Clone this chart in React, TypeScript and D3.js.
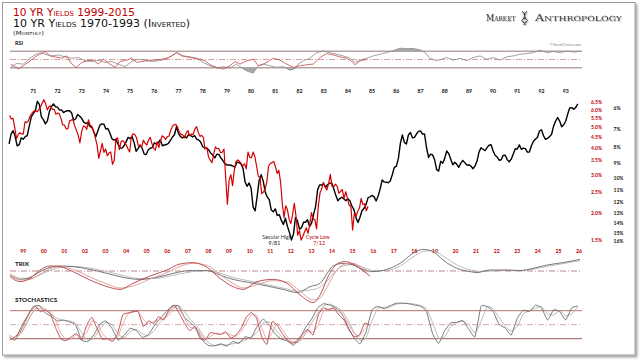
import React from 'react';
import * as d3 from 'd3';

// ---------- DATA ----------
// Black: 10 YR yields, monthly, Jan 1970 .. Jul 1993 (plotted inverted)
const blackStart = 1970;
const blackYields = [
  7.79, 7.24, 7.07, 7.39, 7.91, 7.84, 7.46, 7.53, 7.39, 7.33, 6.84, 6.39,
  6.24, 6.11, 5.70, 5.83, 6.39, 6.52, 6.73, 6.58, 6.14, 5.93, 5.81, 5.93,
  5.95, 6.08, 6.07, 6.19, 6.13, 6.11, 6.11, 6.21, 6.55, 6.48, 6.28, 6.36,
  6.46, 6.64, 6.71, 6.67, 6.85, 6.90, 7.13, 7.40, 7.09, 6.79, 6.73, 6.74,
  6.99, 6.96, 7.21, 7.51, 7.58, 7.54, 7.81, 8.04, 8.04, 7.90, 7.68, 7.43,
  7.50, 7.39, 7.73, 8.23, 8.06, 7.86, 8.06, 8.40, 8.43, 8.14, 8.05, 8.00,
  7.74, 7.79, 7.73, 7.56, 7.90, 7.86, 7.83, 7.77, 7.59, 7.41, 7.29, 6.87,
  7.21, 7.39, 7.46, 7.37, 7.46, 7.28, 7.33, 7.40, 7.34, 7.52, 7.58, 7.69,
  7.96, 8.03, 8.04, 8.15, 8.35, 8.46, 8.64, 8.41, 8.42, 8.64, 8.81, 9.01,
  9.10, 9.10, 9.12, 9.18, 9.25, 8.91, 8.95, 9.03, 9.33, 10.30, 10.65, 10.39,
  10.80, 12.41, 12.75, 11.47, 10.18, 9.78, 10.25, 11.10, 11.51, 11.75, 12.68, 12.84,
  12.57, 13.19, 13.12, 13.68, 14.10, 13.47, 14.28, 14.94, 15.80, 15.15, 13.39, 13.72,
  14.59, 14.43, 13.86, 13.87, 13.62, 14.30, 13.95, 13.06, 12.34, 10.91, 10.55, 10.54,
  10.46, 10.72, 10.51, 10.40, 10.38, 10.85, 11.38, 11.85, 11.65, 11.54, 11.69, 11.83,
  11.67, 11.84, 12.32, 12.63, 13.41, 13.90, 13.36, 12.72, 12.52, 12.16, 11.57, 11.50,
  11.38, 11.51, 11.86, 11.43, 10.85, 10.16, 10.31, 10.33, 10.37, 10.24, 9.78, 9.26,
  9.19, 8.70, 7.78, 7.30, 7.71, 7.80, 7.30, 7.17, 7.45, 7.43, 7.25, 7.11,
  7.08, 7.25, 7.25, 8.02, 8.61, 8.40, 8.45, 8.76, 9.42, 9.52, 8.86, 8.99,
  8.67, 8.21, 8.37, 8.72, 9.09, 8.92, 9.06, 9.26, 8.98, 8.80, 8.96, 9.11,
  9.09, 9.17, 9.36, 9.18, 8.86, 8.28, 8.02, 8.11, 8.19, 8.01, 7.87, 7.84,
  8.21, 8.47, 8.59, 8.79, 8.76, 8.48, 8.47, 8.75, 8.89, 8.72, 8.39, 8.08,
  8.09, 7.85, 8.11, 8.04, 8.07, 8.28, 8.27, 7.90, 7.65, 7.53, 7.42, 7.09,
  7.03, 7.34, 7.54, 7.48, 7.39, 7.26, 6.84, 6.59, 6.42, 6.59, 6.87, 6.77,
  6.60, 6.26, 5.98, 5.97, 6.04, 5.96, 5.81,
];

// Red: 10 YR yields, monthly, May 1998 .. Oct 2015
const redStart = 1998 + 4 / 12;
const redYields = [
  5.65, 5.45, 5.49, 4.98, 4.42, 4.61, 4.71, 4.65,
  4.65, 5.29, 5.24, 5.35, 5.62, 5.78, 5.90, 5.97, 5.88, 6.02, 6.19, 6.44,
  6.68, 6.41, 6.00, 6.21, 6.27, 6.03, 6.03, 5.73, 5.80, 5.75, 5.47, 5.11,
  5.11, 4.90, 4.92, 5.34, 5.38, 5.41, 5.05, 4.83, 4.59, 4.23, 4.75, 5.05,
  5.03, 4.88, 5.40, 5.09, 5.04, 4.80, 4.46, 4.14, 3.59, 3.89, 4.21, 3.82,
  3.96, 3.69, 3.80, 3.84, 3.37, 3.51, 4.41, 4.46, 3.94, 4.29, 4.33, 4.25,
  4.13, 3.97, 3.84, 4.51, 4.65, 4.62, 4.46, 4.12, 4.12, 4.03, 4.35, 4.22,
  4.13, 4.36, 4.48, 4.20, 3.98, 3.92, 4.28, 4.02, 4.33, 4.56, 4.49, 4.39,
  4.52, 4.55, 4.85, 5.05, 5.12, 5.14, 4.98, 4.73, 4.63, 4.60, 4.46, 4.70,
  4.82, 4.56, 4.64, 4.62, 4.89, 5.02, 4.74, 4.53, 4.58, 4.47, 3.96, 4.02,
  3.65, 3.52, 3.43, 3.74, 4.05, 3.98, 3.98, 3.81, 3.83, 3.96, 2.93, 2.21,
  2.85, 3.02, 2.69, 3.16, 3.47, 3.53, 3.48, 3.40, 3.31, 3.39, 3.21, 3.84,
  3.63, 3.61, 3.84, 3.66, 3.31, 2.97, 2.94, 2.47, 2.51, 2.60, 2.80, 3.30,
  3.40, 3.43, 3.47, 3.29, 3.06, 3.16, 2.80, 2.23, 1.92, 2.17, 2.08, 1.88,
  1.80, 1.98, 2.23, 1.95, 1.59, 1.67, 1.51, 1.57, 1.65, 1.72, 1.62, 1.78,
  2.02, 1.89, 1.87, 1.70, 2.16, 2.49, 2.60, 2.78, 2.64, 2.57, 2.75, 3.03,
  2.67, 2.66, 2.73, 2.67, 2.48, 2.53, 2.58, 2.35, 2.52, 2.35, 2.18, 2.17,
  1.68, 2.00, 1.94, 2.05, 2.12, 2.35, 2.20, 2.22, 2.06, 2.16,
];

// axis labels
const blackYearTicks = d3.range(1971, 1994);
const blackYearLabels = blackYearTicks.map((y) => String(y).slice(2));
const redYearTicks = d3.range(1999, 2027);
const redYearLabels = redYearTicks.map((y) => String(y).slice(2));
const redYieldTicks = [6.5, 6.0, 5.5, 5.0, 4.5, 4.0, 3.5, 3.0, 2.5, 2.0, 1.5];
const blackYieldTicks = [6, 7, 8, 9, 10, 11, 12, 13, 14, 15, 16];

// RSI [year, value]
const rsiBlack: [number, number][] = [
  [1970.07, 30.8], [1970.31, 40.4], [1970.59, 38.8], [1970.86, 53.2], [1971.07, 61.2], [1971.28, 66.8],
  [1971.48, 62.8], [1971.76, 58.8], [1972.03, 61.2], [1972.31, 56.4], [1972.59, 53.2], [1972.86, 54.8],
  [1973.14, 46.8], [1973.41, 45.2], [1973.69, 48.4], [1973.96, 42.8], [1974.24, 45.2], [1974.51, 38.8],
  [1974.79, 32.4], [1975.07, 45.2], [1975.34, 50.8], [1975.62, 48.4], [1975.89, 45.2], [1976.17, 46.8],
  [1976.44, 50], [1976.72, 58.8], [1976.93, 66.8], [1977.2, 58.8], [1977.48, 56.4], [1977.75, 53.2],
  [1978.02, 42.8], [1978.3, 34.8], [1978.58, 29.2], [1978.85, 32.4], [1979.13, 29.2], [1979.4, 38.8],
  [1979.68, 26.8], [1979.88, 20.5], [1980.09, 17], [1980.3, 34.8], [1980.5, 38.8], [1980.78, 34.8],
  [1981.06, 30.8], [1981.33, 32.4], [1981.61, 24], [1981.81, 27.5], [1981.95, 38.8], [1982.15, 46.8],
  [1982.43, 53.2], [1982.71, 66.8], [1982.98, 70.8], [1983.26, 66.8], [1983.54, 62.8], [1983.81, 58.8],
  [1984.09, 53.2], [1984.29, 42.8], [1984.5, 48.4], [1984.78, 53.2], [1985.05, 58.8], [1985.33, 62.8],
  [1985.6, 66.8], [1985.88, 71.5], [1986.15, 77.5], [1986.43, 76.5], [1986.7, 76.8], [1986.98, 73.5],
  [1987.19, 66.8], [1987.39, 53.2], [1987.67, 46.8], [1987.88, 50.8], [1988.08, 54.8], [1988.36, 48.4],
  [1988.63, 53.2], [1988.91, 46.8], [1989.18, 54.8], [1989.46, 58.8], [1989.74, 50.8], [1990.01, 54.8],
  [1990.29, 48.4], [1990.56, 56.4], [1990.84, 58.8], [1991.11, 62.8], [1991.39, 64.4], [1991.66, 66.8],
  [1991.94, 72.8], [1992.22, 66.8], [1992.49, 69.8], [1992.77, 66.8], [1993.04, 70.4], [1993.32, 68.2],
  [1993.59, 69.8],
];
const rsiRed: [number, number][] = [
  [1998.39, 38.8], [1998.6, 32.4], [1998.76, 26.8], [1999.0, 34.8], [1999.33, 46.8], [1999.65, 58.8],
  [2000.05, 69.2], [2000.3, 58.8], [2000.54, 56.4], [2000.87, 53.2], [2001.11, 58.8], [2001.35, 38.8],
  [2001.59, 30.8], [2001.84, 42.8], [2002.08, 46.8], [2002.4, 48.4], [2002.64, 38.8], [2002.89, 50.8],
  [2003.21, 38.8], [2003.46, 30.8], [2003.7, 45.2], [2004.02, 48.4], [2004.27, 53.2], [2004.51, 42.8],
  [2004.75, 45.2], [2005.0, 46.8], [2005.32, 48.4], [2005.64, 50], [2005.97, 53.2], [2006.21, 58.8],
  [2006.45, 66.8], [2006.7, 58.8], [2006.94, 56.4], [2007.26, 53.2], [2007.59, 50.8], [2007.83, 46.8],
  [2008.07, 37.2], [2008.4, 30.8], [2008.72, 26.8], [2009.04, 34.8], [2009.29, 45.2], [2009.53, 38.8],
  [2009.86, 46.8], [2010.18, 50.8], [2010.42, 34.8], [2010.66, 38.8], [2010.9, 45.2], [2011.15, 53.2],
  [2011.47, 48.4], [2011.8, 38.8], [2012.12, 30.8], [2012.44, 34.8], [2012.77, 37.2], [2013.09, 38.8],
  [2013.42, 54.8], [2013.74, 64.4], [2014.06, 61.2], [2014.39, 56.4], [2014.71, 53.2], [2014.96, 45.2],
  [2015.12, 37.2], [2015.36, 46.8], [2015.65, 50],
];

// TRIX [year, value]
const trixBlack: [number, number][] = [
  [1970.04, -2], [1970.45, -4.2], [1970.86, -3.2], [1971.28, -0.3], [1971.69, 1.8], [1972.1, 2.5],
  [1972.64, 2.2], [1973.34, 0.8], [1974.05, -1.2], [1974.71, -3.2], [1975.41, -4.2], [1976.11, -3.2],
  [1976.77, -1.2], [1977.48, 0.2], [1978.18, 0.2], [1978.71, -2], [1979.25, -4.2], [1979.95, -5.8],
  [1980.66, -7.5], [1981.32, -9.2], [1981.9, -10.8], [1982.44, -7.8], [1982.85, -6.2], [1983.14, -1.2],
  [1983.38, 2.5], [1983.8, 3.8], [1984.21, 3], [1984.62, 0.8], [1985.04, -0.3], [1985.61, 0.8],
  [1986.15, 3.8], [1986.69, 8.8], [1987.1, 10.8], [1987.52, 9.7], [1987.93, 5.5], [1988.51, 1.3],
  [1989.05, -0.3], [1989.33, -0.8], [1989.87, 0.5], [1990.57, 0.5], [1991.11, 0.2], [1991.65, 1.3],
  [1992.23, 3], [1992.89, 4.2], [1993.59, 5.8],
];
const trixBlackSignal: [number, number][] = [
  [1970.04, -1.5], [1970.45, -3.5], [1970.86, -3.8], [1971.28, -2], [1971.69, 0.3], [1972.1, 1.8],
  [1972.64, 2.3], [1973.34, 1.4], [1974.05, -0.3], [1974.71, -2.3], [1975.41, -3.8], [1976.11, -3.6],
  [1976.77, -2.2], [1977.48, -0.5], [1978.18, 0.2], [1978.71, -1], [1979.25, -3.2], [1979.95, -5],
  [1980.66, -6.8], [1981.32, -8.5], [1981.9, -10], [1982.44, -9.5], [1982.85, -8], [1983.14, -5],
  [1983.38, -1.5], [1983.8, 2.5], [1984.21, 3.2], [1984.62, 1.8], [1985.04, 0.3], [1985.61, 0.3],
  [1986.15, 2.5], [1986.69, 7], [1987.1, 9.8], [1987.52, 10.2], [1987.93, 7.5], [1988.51, 3],
  [1989.05, 0.5], [1989.33, -0.4], [1989.87, 0], [1990.57, 0.4], [1991.11, 0.3], [1991.65, 0.9],
  [1992.23, 2.3], [1992.89, 3.7], [1993.59, 5.2],
];
const trixRed: [number, number][] = [
  [1998.35, -2.8], [1998.84, -5.3], [1999.33, -3.7], [1999.81, 0.5], [2000.3, 2.5], [2000.78, 2.2],
  [2001.41, -0.3], [2002.24, -4.5], [2003.07, -7.8], [2003.7, -9.2], [2004.33, -6.2], [2005.16, -2.5],
  [2005.98, 0.5], [2006.61, 3.5], [2007.25, 4.2], [2007.93, 1.8], [2008.56, -3.7], [2009.19, -7.8],
  [2009.68, -9.2], [2010.36, -5.3], [2011.14, -4.2], [2011.82, -6.2], [2012.45, -12], [2013.08, -15.8],
  [2013.42, -12], [2013.81, -2.8], [2014.24, 3.5], [2014.63, 4.7], [2015.02, 3.5], [2015.46, 0.5],
  [2015.85, -2.5],
];
const trixRedSignal: [number, number][] = [
  [1998.35, -2], [1998.84, -4.5], [1999.33, -4.2], [1999.81, -1.5], [2000.3, 1.2], [2000.78, 2.3],
  [2001.41, 0.8], [2002.24, -3], [2003.07, -6.5], [2003.7, -8.5], [2004.33, -7.5], [2005.16, -4],
  [2005.98, -0.8], [2006.61, 2.3], [2007.25, 3.8], [2007.93, 2.8], [2008.56, -1.8], [2009.19, -6.2],
  [2009.68, -8.5], [2010.36, -6.8], [2011.14, -4.8], [2011.82, -5.5], [2012.45, -10], [2013.08, -14.5],
  [2013.42, -13.5], [2013.81, -7], [2014.24, 0.5], [2014.63, 3.5], [2015.02, 3.8], [2015.46, 1.8],
  [2015.85, -0.8],
];

// Stochastics, quarterly samples
const stochBlackStart = 1970;
const stochRedStart = 1998 + 4 / 12;
const stochBlackK = [
  24, 17, 46, 68, 89, 91, 75, 68, 58, 60, 56, 49, 17, 14, 28, 51, 58, 42, 17, 27, 42, 38, 23, 28, 48,
  64, 78, 91, 90, 66, 54, 42, 16, 5, 5, 9, 4, 14, 10, 24, 22, 46, 62, 49, 30, 19, 15, 6, 19, 44,
  62, 86, 95, 92, 86, 74, 46, 22, 9, 35, 82, 89, 84, 91, 96, 96, 95, 92, 90, 78, 31, 10, 37, 54, 55,
  59, 40, 24, 89, 89, 78, 51, 43, 28, 64, 81, 78, 92, 86, 60, 82, 78, 60, 86, 90,
];
const stochBlackD = [
  28, 21, 32, 57, 79, 90, 83, 72, 63, 59, 58, 53, 33, 16, 21, 40, 55, 50, 30, 22, 35, 40, 31, 26, 38,
  56, 71, 85, 91, 78, 60, 48, 29, 11, 5, 7, 7, 9, 12, 17, 23, 34, 54, 56, 40, 25, 17, 11, 13, 32,
  53, 74, 91, 94, 89, 80, 60, 34, 16, 22, 59, 86, 87, 88, 94, 96, 96, 94, 91, 84, 55, 21, 24, 46, 55,
  57, 50, 32, 57, 89, 84, 65, 47, 36, 46, 73, 80, 85, 89, 73, 71, 80, 69, 73, 88,
];
const stochRedK = [
  17, 24, 33, 56, 78, 89, 78, 82, 71, 42, 19, 16, 24, 31, 17, 49, 66, 42, 19, 20, 14, 31, 71, 75, 78,
  78, 46, 58, 53, 67, 60, 82, 91, 74, 53, 37, 46, 21, 17, 33, 31, 29, 35, 21, 28, 42, 66, 76, 64, 24,
  8, 56, 49, 31, 17, 10, 17, 31, 40, 28, 71, 86, 82, 86, 71, 60, 38, 24, 28, 53, 49,
];
const stochRedD = [
  20, 21, 29, 45, 67, 84, 84, 80, 77, 57, 31, 18, 20, 28, 24, 33, 58, 54, 31, 20, 17, 23, 51, 73, 77,
  78, 62, 52, 56, 60, 64, 71, 87, 83, 64, 45, 42, 34, 19, 25, 32, 30, 32, 28, 25, 35, 54, 71, 70, 44,
  16, 32, 53, 40, 24, 14, 14, 24, 36, 34, 50, 79, 84, 84, 79, 66, 49, 31, 26, 41, 51,
];

// ---------- SCALES ----------
const xBlack = d3.scaleLinear().domain([1970, 1993]).range([9.1, 565.7]);
const xRed = d3.scaleLinear().domain([1999, 2026]).range([23.3, 579]);
const yBlack = d3.scaleLog().domain([6, 16]).range([108.3, 241.7]);
const yRed = d3.scaleLog().domain([1.5, 6.5]).range([240.7, 102.3]);
const yRsi = d3.scaleLinear().domain([30, 70]).range([67.7, 51.3]);
const yTrix = d3.scaleLinear().domain([0, 10]).range([271, 251]);
const yStoch = d3.scaleLinear().domain([20, 80]).range([338.7, 310.7]);

const panelX0 = 10;
const panelX1 = 582;

const labelFont = 'Lato, "DejaVu Sans", sans-serif';
const titleFont = '"DejaVu Sans", Verdana, sans-serif';
const RED = '#d40000';
const LABEL_RED = '#c00000';

function pairLine(x: d3.ScaleLinear<number, number>, y: (v: number) => number, curve: d3.CurveFactory) {
  return d3
    .line<[number, number]>()
    .x((d) => x(d[0]))
    .y((d) => y(d[1]))
    .curve(curve);
}

export default function App() {
  const blackLine = d3
    .line<number>()
    .x((_, i) => xBlack(blackStart + i / 12))
    .y((d) => yBlack(d));
  const redLine = d3
    .line<number>()
    .x((_, i) => xRed(redStart + i / 12))
    .y((d) => yRed(d));

  const rsiB = pairLine(xBlack, yRsi, d3.curveLinear);
  const rsiR = pairLine(xRed, yRsi, d3.curveLinear);
  const rsiAreaB = d3
    .area<[number, number]>()
    .x((d) => xBlack(d[0]))
    .y0(() => yRsi(50))
    .y1((d) => yRsi(d[1]));

  const trixB = pairLine(xBlack, yTrix, d3.curveMonotoneX);
  const trixR = pairLine(xRed, yTrix, d3.curveMonotoneX);

  const stochB = d3
    .line<number>()
    .x((_, i) => xBlack(stochBlackStart + i * 0.25))
    .y((d) => yStoch(d))
    .curve(d3.curveCardinal.tension(0.6));
  const stochR = d3
    .line<number>()
    .x((_, i) => xRed(stochRedStart + i * 0.25))
    .y((d) => yStoch(d))
    .curve(d3.curveCardinal.tension(0.6));

  const sep81 = xBlack(1981 + 8 / 12);
  const jul12 = xRed(2012 + 6 / 12);
  const annY = yBlack(16);

  return (
    <svg
      width={640}
      height={360}
      viewBox="0 0 640 360"
      style={{ position: 'fixed', left: 0, top: 0, background: '#fff' }}
    >
      <defs>
        <filter id="shadow" x="-5%" y="-5%" width="110%" height="110%">
          <feDropShadow dx="2" dy="2" stdDeviation="1.2" floodColor="#000" floodOpacity="0.35" />
        </filter>
        <filter id="logoShadow" x="-10%" y="-30%" width="120%" height="160%">
          <feDropShadow dx="0.8" dy="0.8" stdDeviation="0.5" floodColor="#000" floodOpacity="0.35" />
        </filter>
        <clipPath id="rsiHigh">
          <rect x={0} y={30} width={640} height={yRsi(70) - 30} />
        </clipPath>
        <clipPath id="rsiLow">
          <rect x={0} y={yRsi(30)} width={640} height={20} />
        </clipPath>
      </defs>

      {/* frame */}
      <rect x={2.5} y={2.5} width={632.5} height={352.5} fill="#fff" stroke="#9a9a9a" strokeWidth={1} filter="url(#shadow)" />

      {/* titles */}
      <text x={13} y={15.5} fill={LABEL_RED} fontFamily={titleFont} fontSize={10.5} style={{ fontVariant: 'small-caps' }} textLength={122} lengthAdjust="spacingAndGlyphs">
        10 YR Yields 1999-2015
      </text>
      <text x={13} y={27.3} fill="#111" fontFamily={titleFont} fontSize={10.5} style={{ fontVariant: 'small-caps' }} textLength={177} lengthAdjust="spacingAndGlyphs">
        10 YR Yields 1970-1993 (Inverted)
      </text>
      <text x={13} y={34.6} fill="#222" fontFamily={titleFont} fontSize={5.6} style={{ fontVariant: 'small-caps' }} textLength={31} lengthAdjust="spacingAndGlyphs">
        (Monthly)
      </text>

      {/* logo */}
      <g filter="url(#logoShadow)" fill="#3a3a3a">
        <text x={486} y={21} fontFamily='"DejaVu Serif", "Liberation Serif", serif' fontSize={9.5} style={{ fontVariant: 'small-caps' }} textLength={29.5} lengthAdjust="spacingAndGlyphs">
          Market
        </text>
        <text x={535} y={21} fontFamily='"DejaVu Serif", "Liberation Serif", serif' fontSize={9.5} style={{ fontVariant: 'small-caps' }} textLength={87} lengthAdjust="spacingAndGlyphs">
          Anthropology
        </text>
        <path d="M522,11.5 C528,14 521,17 526.5,19.5 C529.5,21 523,23 524,25" fill="none" stroke="#3a3a3a" strokeWidth={1} />
        <path d="M527,11.5 C521,14 528,17 522.5,19.5 C519.5,21 526,23 525,25" fill="none" stroke="#3a3a3a" strokeWidth={1} />
        <path d="M522.5,14 H526.5 M522.5,18 H526.5 M522.5,22 H526.5" stroke="#3a3a3a" strokeWidth={0.6} />
      </g>

      {/* RSI panel */}
      <text x={15} y={45} fontFamily={labelFont} fontWeight={700} fontSize={5.5} fill="#111">RSI</text>
      <text x={581} y={46} textAnchor="end" fontFamily={labelFont} fontSize={3.8} fill="#888">©StockCharts.com</text>
      <line x1={panelX0} x2={panelX1} y1={yRsi(70)} y2={yRsi(70)} stroke="#b7a3a3" strokeWidth={1.4} />
      <line x1={panelX0} x2={panelX1} y1={yRsi(30)} y2={yRsi(30)} stroke="#b7a3a3" strokeWidth={1.4} />
      <line x1={panelX0} x2={panelX1} y1={yRsi(50)} y2={yRsi(50)} stroke="#c88c8c" strokeWidth={0.8} strokeDasharray="6,2,1,2" />
      <path d={rsiAreaB(rsiBlack) ?? ''} fill="#a8a8a8" clipPath="url(#rsiHigh)" />
      <path d={rsiAreaB(rsiBlack) ?? ''} fill="#a8a8a8" clipPath="url(#rsiLow)" />
      <path d={rsiB(rsiBlack) ?? ''} fill="none" stroke="#8a8a8a" strokeWidth={0.8} />
      <path d={rsiR(rsiRed) ?? ''} fill="none" stroke="#c84848" strokeWidth={0.8} />

      {/* top axis labels (black series) */}
      {blackYearTicks.map((yr, i) => (
        <text key={'bt' + yr} x={xBlack(yr)} y={93} textAnchor="middle" fontFamily={labelFont} fontWeight={700} fontSize={5.2} fill="#111">
          {blackYearLabels[i]}
        </text>
      ))}

      {/* main lines */}
      <path d={blackLine(blackYields) ?? ''} fill="none" stroke="#000" strokeWidth={1.4} strokeLinejoin="round" />
      <path d={redLine(redYields) ?? ''} fill="none" stroke={RED} strokeWidth={1.2} strokeLinejoin="round" />

      {/* right axes */}
      {redYieldTicks.map((v) => (
        <text key={'ry' + v} x={602} y={yRed(v)} dy="0.35em" textAnchor="end" fontFamily={labelFont} fontWeight={700} fontSize={5} fill={LABEL_RED}>
          {v.toFixed(1)}%
        </text>
      ))}
      {blackYieldTicks.map((v) => (
        <text key={'by' + v} x={613.5} y={yBlack(v)} dy="0.35em" fontFamily={labelFont} fontWeight={700} fontSize={5} fill="#111">
          {v}%
        </text>
      ))}

      {/* annotations */}
      <text x={sep81 + 0.5} y={annY - 2.3} textAnchor="end" fontFamily={labelFont} fontSize={5.4} fill="#333">Secular High</text>
      <text x={sep81 - 17} y={annY + 3.6} textAnchor="middle" fontFamily={labelFont} fontSize={5.4} fill="#222">9/81</text>
      <text x={jul12 + 4.5} y={annY - 2.3} fontFamily={labelFont} fontSize={5.4} fill={LABEL_RED}>Cycle Low</text>
      <text x={jul12 + 18} y={annY + 3.6} textAnchor="middle" fontFamily={labelFont} fontSize={5.4} fill={LABEL_RED}>7/12</text>

      {/* bottom axis labels (red series) */}
      {redYearTicks.map((yr, i) => (
        <text key={'rt' + yr} x={xRed(yr)} y={253} textAnchor="middle" fontFamily={labelFont} fontWeight={700} fontSize={5.2} fill={LABEL_RED}>
          {redYearLabels[i]}
        </text>
      ))}

      {/* TRIX panel */}
      <text x={15} y={265.5} fontFamily={labelFont} fontWeight={700} fontSize={6.3} fill="#111">TRIX</text>
      <line x1={panelX0} x2={panelX1} y1={yTrix(0)} y2={yTrix(0)} stroke="#a86a6a" strokeWidth={0.8} strokeDasharray="6,2,1,2" />
      <path d={trixB(trixBlackSignal) ?? ''} fill="none" stroke="#b4b4b4" strokeWidth={0.9} />
      <path d={trixB(trixBlack) ?? ''} fill="none" stroke="#6a6a6a" strokeWidth={0.9} />
      <path d={trixR(trixRedSignal) ?? ''} fill="none" stroke="#e09a9a" strokeWidth={0.9} />
      <path d={trixR(trixRed) ?? ''} fill="none" stroke="#b84040" strokeWidth={0.9} />

      {/* Stochastics panel */}
      <text x={15} y={302} fontFamily={labelFont} fontWeight={700} fontSize={6.3} fill="#111">STOCHASTICS</text>
      <line x1={panelX0} x2={panelX1} y1={yStoch(80)} y2={yStoch(80)} stroke="#b07272" strokeWidth={1} />
      <line x1={panelX0} x2={panelX1} y1={yStoch(20)} y2={yStoch(20)} stroke="#a05a5a" strokeWidth={1} />
      <line x1={panelX0} x2={panelX1} y1={yStoch(50)} y2={yStoch(50)} stroke="#c89090" strokeWidth={0.8} strokeDasharray="6,2,1,2" />
      <path d={stochB(stochBlackD) ?? ''} fill="none" stroke="#b0b0b0" strokeWidth={0.9} />
      <path d={stochB(stochBlackK) ?? ''} fill="none" stroke="#6a6a6a" strokeWidth={0.9} />
      <path d={stochR(stochRedD) ?? ''} fill="none" stroke="#e0a0a0" strokeWidth={0.9} />
      <path d={stochR(stochRedK) ?? ''} fill="none" stroke="#b84444" strokeWidth={0.9} />
    </svg>
  );
}
